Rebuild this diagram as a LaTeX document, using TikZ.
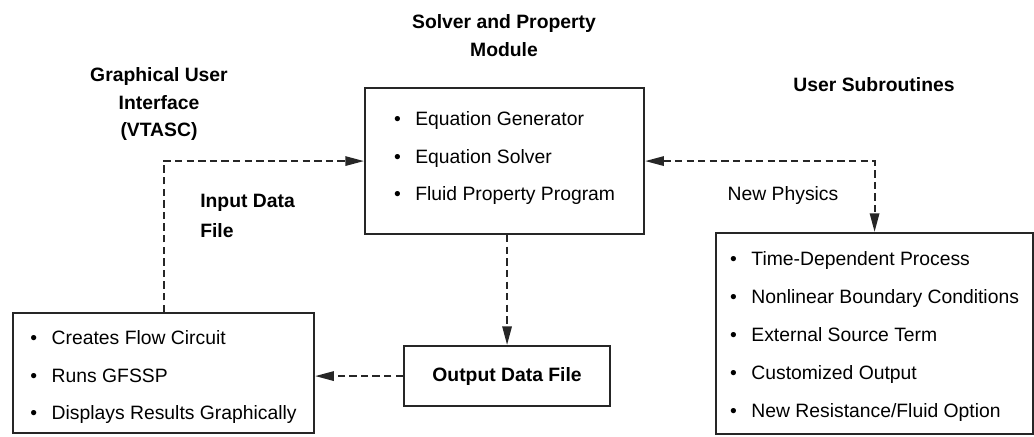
\documentclass[tikz,border=0pt]{standalone}
\usepackage{fontspec}
\setmainfont{Liberation Sans}
\usetikzlibrary{positioning,arrows.meta}

\newcommand{\itm}[1]{\makebox[1.1em][l]{\textbullet}#1}

\begin{document}
\begin{tikzpicture}[
    x=0.75pt, y=-0.75pt,
    box/.style={rectangle, draw=black!85, line width=1.6pt, font=\fontsize{14.5}{28}\selectfont, align=left, inner sep=0pt, anchor=north west},
    title/.style={font=\fontsize{14.5}{21}\selectfont\bfseries, align=center, inner sep=0pt},
    flow/.style={draw=black!85, line width=1.5pt, dash pattern=on 5.5pt off 3.2pt, -{Triangle[length=14pt,width=7pt]}},
    flowboth/.style={flow, {Triangle[length=14pt,width=7pt]}-{Triangle[length=14pt,width=7pt]}},
  ]
    \useasboundingbox (0,0) rectangle (1034,436);

    % Boxes
    \node[box, minimum width=209.25pt, minimum height=109.5pt] (solver) at (364,87)
      {\itm{Equation Generator}\\\itm{Equation Solver}\\\itm{Fluid Property Program}\rule[-7.5pt]{0pt}{7.5pt}};
    \node[box, minimum width=225.75pt, minimum height=90pt] (input) at (12,312)
      {\rule{0pt}{16.6pt}\itm{Creates Flow Circuit}\\\itm{Runs GFSSP}\\\itm{Displays Results Graphically}};
    \node[box, font=\fontsize{14.5}{28.5}\selectfont, minimum width=237.75pt, minimum height=150.75pt] (subs) at (715,232)
      {\rule{0pt}{14.6pt}\itm{Time-Dependent Process}\\\itm{Nonlinear Boundary Conditions}\\\itm{External Source Term}\\\itm{Customized Output}\\\itm{New Resistance/Fluid Option}};
    \node[box, font=\fontsize{14.5}{17}\selectfont\bfseries, align=center, minimum width=154.5pt, minimum height=45pt] (output) at (403,345) {Output Data File};

    % Labels
    \node[title] (solvertitle) at (504,36) {Solver and Property\\Module};
    \node[title, font=\fontsize{14.5}{20.6}\selectfont\bfseries] (guititle) at (159,104) {Graphical User\\Interface\\(VTASC)};
    \node[title, font=\fontsize{14.5}{22.5}\selectfont\bfseries, align=left, anchor=west] (inputlabel) at (200,216) {Input Data\\File};
    \node[title] (substitle) at (874,85) {User Subroutines};
    \node[font=\fontsize{14.5}{17}\selectfont, inner sep=0pt] (physics) at (783,195) {New Physics};

    % Arrows
    \draw[flow] (input.north) |- (solver.west);
    \draw[flowboth] (solver.east) -| (subs.north);
    \draw[flow] (output.north |- solver.south) -- (output.north);
    \draw[flow] (output.west) -- (output.west -| input.east);
  \end{tikzpicture}
\end{document}
